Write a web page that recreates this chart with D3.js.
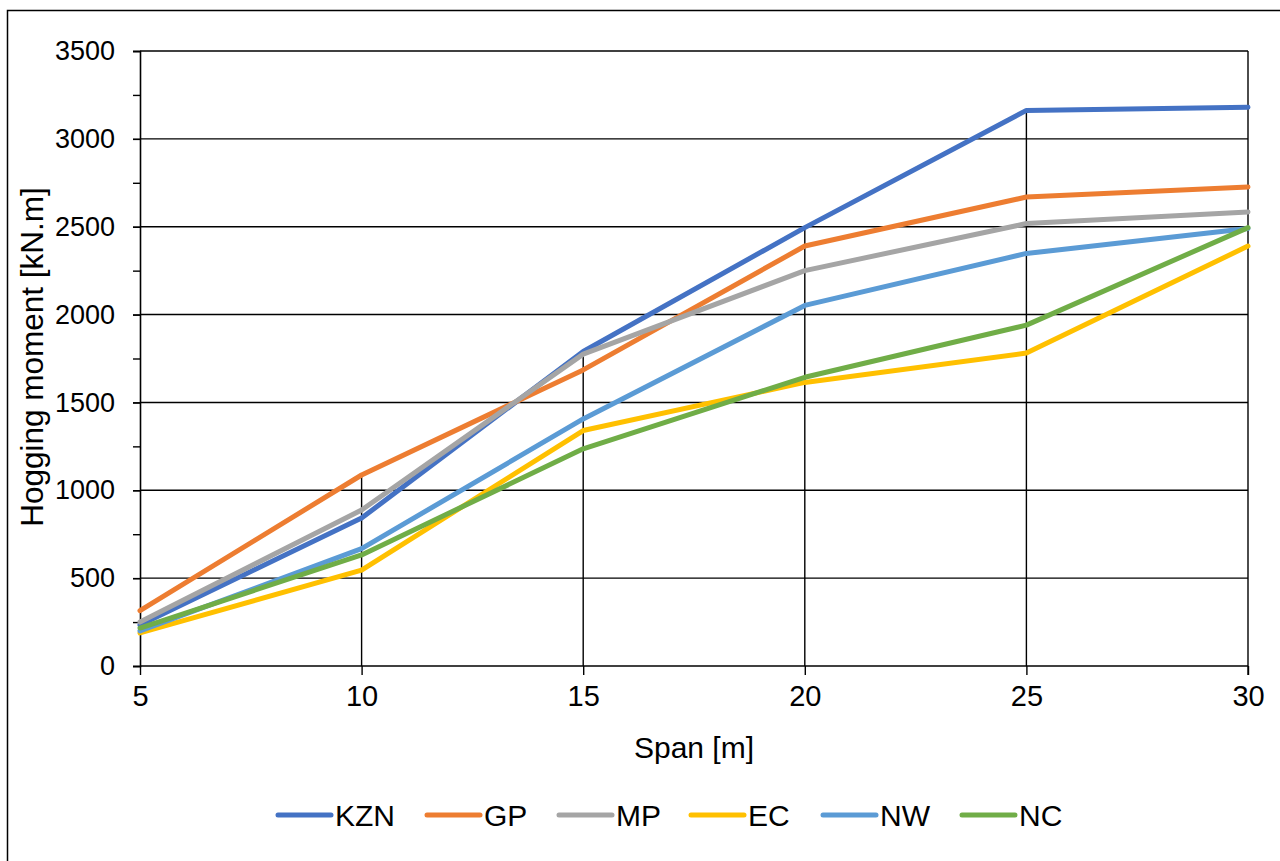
<!DOCTYPE html>
<html>
<head>
<meta charset="utf-8">
<script src="https://cdn.jsdelivr.net/npm/d3@7/dist/d3.min.js"></script>
<style>
  html, body { margin: 0; padding: 0; background: #fff; }
  svg { display: block; font-family: "Liberation Sans", Arial, sans-serif; }
</style>
</head>
<body>
<svg id="chart" width="1280" height="861"></svg>
<script>
// Span values along the x axis [m]
const spans = [5, 10, 15, 20, 25, 30];

// Hogging moment per region [kN.m]
const seriesNames = ["KZN", "GP", "MP", "EC", "NW", "NC"];
const seriesColors = ["#4472C4", "#ED7D31", "#A5A5A5", "#FFC000", "#5B9BD5", "#70AD47"];
const kzn = [233, 842, 1790, 2495, 3162, 3180];
const gp  = [315, 1087, 1685, 2390, 2669, 2726];
const mp  = [250, 888, 1775, 2250, 2518, 2584];
const ec  = [188, 546, 1340, 1614, 1781, 2390];
const nw  = [200, 668, 1406, 2052, 2348, 2490];
const nc  = [216, 632, 1236, 1643, 1940, 2495];

const yTicks = [0, 500, 1000, 1500, 2000, 2500, 3000, 3500];
const yMinorTicks = d3.range(0, 3501, 250);

const seriesValues = [kzn, gp, mp, ec, nw, nc];
const series = seriesNames.map((name, i) => ({
  name, color: seriesColors[i],
  points: spans.map((s, j) => ({ x: s, y: seriesValues[i][j] }))
}));

const svg = d3.select("#chart");
const plot = { left: 140, right: 1248, top: 51, bottom: 666 };

const x = d3.scaleLinear().domain([5, 30]).range([plot.left, plot.right]);
const y = d3.scaleLinear().domain([0, 3500]).range([plot.bottom, plot.top]);

// outer chart frame (extends past the right and bottom edges)
svg.append("path")
  .attr("d", `M7.5,870 L7.5,10.5 L1290,10.5`)
  .attr("fill", "none").attr("stroke", "#000").attr("stroke-width", 1.5);

// horizontal gridlines
svg.append("g").selectAll("line")
  .data(yTicks.filter(d => d > 0))
  .join("line")
  .attr("x1", plot.left).attr("x2", plot.right)
  .attr("y1", d => y(d)).attr("y2", d => y(d))
  .attr("stroke", "#000").attr("stroke-width", 1.4);

// drop lines from the highest value at each span down to the axis
const dropSpans = spans.filter(s => s > 5 && s < 30);
svg.append("g").selectAll("line")
  .data(dropSpans)
  .join("line")
  .attr("x1", d => x(d)).attr("x2", d => x(d))
  .attr("y1", d => y(d3.max(seriesValues, v => v[spans.indexOf(d)])))
  .attr("y2", plot.bottom)
  .attr("stroke", "#000").attr("stroke-width", 1.4);

// right edge of plot area
svg.append("line")
  .attr("x1", x(30)).attr("x2", x(30))
  .attr("y1", y(3500)).attr("y2", plot.bottom + 9)
  .attr("stroke", "#000").attr("stroke-width", 1.4);

// y axis with minor ticks
const yAxisMinor = d3.axisLeft(y).tickValues(yMinorTicks).tickSize(7).tickFormat("");
svg.append("g").attr("transform", `translate(${plot.left},0)`).call(yAxisMinor)
  .call(g => g.selectAll("line").attr("stroke", "#000").attr("stroke-width", 1.4))
  .call(g => g.select(".domain").remove());

const yAxis = d3.axisLeft(y).tickValues(yTicks).tickSize(7).tickPadding(18)
  .tickFormat(d3.format("d"));
svg.append("g").attr("transform", `translate(${plot.left},0)`).call(yAxis)
  .call(g => g.select(".domain").attr("stroke", "#000").attr("stroke-width", 1.6))
  .call(g => g.selectAll("line").attr("stroke", "#000").attr("stroke-width", 1.4))
  .call(g => g.selectAll("text").attr("font-size", 27).attr("fill", "#000")
    .attr("font-family", "Liberation Sans, Arial, sans-serif"));

// x axis
const xAxis = d3.axisBottom(x).tickValues(spans).tickSize(9).tickPadding(10);
svg.append("g").attr("transform", `translate(0,${plot.bottom})`).call(xAxis)
  .call(g => g.select(".domain").attr("stroke", "#000").attr("stroke-width", 1.6)
    .attr("d", `M${plot.left},0H${plot.right}`))
  .call(g => g.selectAll("line").attr("stroke", "#000").attr("stroke-width", 1.4))
  .call(g => g.selectAll("text").attr("font-size", 29).attr("fill", "#000")
    .attr("font-family", "Liberation Sans, Arial, sans-serif"));

// series lines
const line = d3.line().x(d => x(d.x)).y(d => y(d.y));
svg.append("g").selectAll("path")
  .data(series)
  .join("path")
  .attr("d", d => line(d.points))
  .attr("fill", "none")
  .attr("stroke", d => d.color)
  .attr("stroke-width", 5)
  .attr("stroke-linejoin", "round")
  .attr("stroke-linecap", "round");

// axis titles
svg.append("text")
  .attr("x", 694).attr("y", 758)
  .attr("text-anchor", "middle")
  .attr("font-size", 30)
  .text("Span [m]");

svg.append("text")
  .attr("transform", `translate(43,357) rotate(-90)`)
  .attr("text-anchor", "middle")
  .attr("font-size", 31.5)
  .text("Hogging moment [kN.m]");

// legend
const legendX = [278, 427, 559, 691, 823, 962];
const legend = svg.append("g").selectAll("g")
  .data(series)
  .join("g")
  .attr("transform", (d, i) => `translate(${legendX[i]},815)`);
legend.append("line")
  .attr("x1", 0).attr("x2", 53).attr("y1", 0).attr("y2", 0)
  .attr("stroke", d => d.color).attr("stroke-width", 5)
  .attr("stroke-linecap", "round");
legend.append("text")
  .attr("x", 57).attr("y", 11)
  .attr("font-size", 30)
  .text(d => d.name);
</script>
</body>
</html>
